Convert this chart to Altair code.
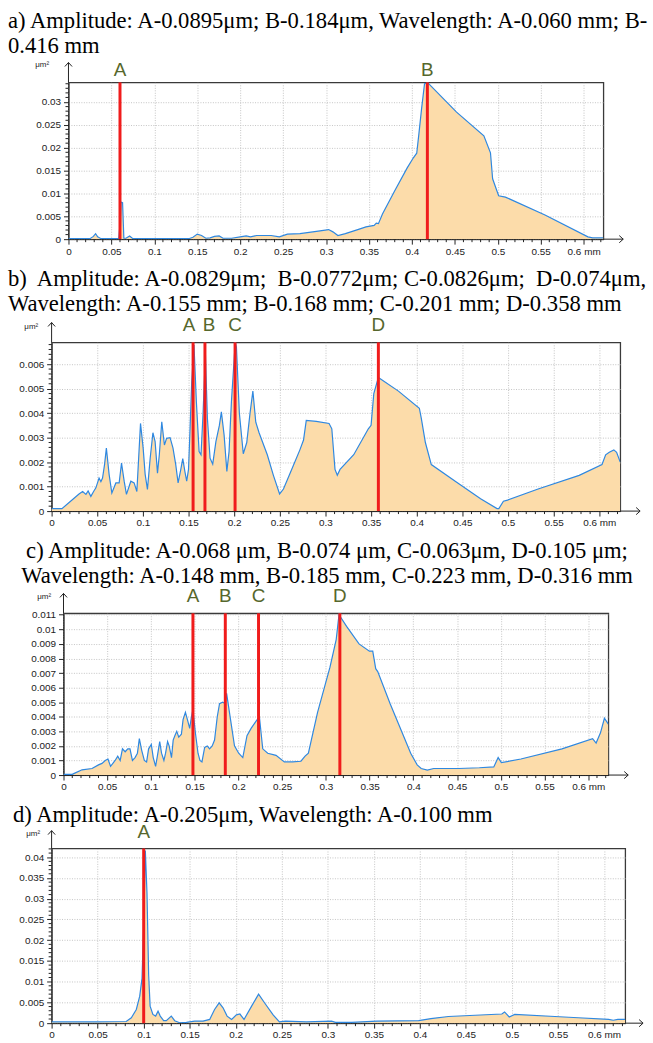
import altair as alt
import pandas as pd

# ---------------- data ----------------
X_MAX = 0.623

a_x = [0, 0.025, 0.029, 0.0316, 0.034, 0.038, 0.0585, 0.0595, 0.0605, 0.0612, 0.063, 0.0645, 0.067,
       0.0712, 0.075, 0.14, 0.145, 0.150, 0.155, 0.16, 0.165, 0.17, 0.1755, 0.18, 0.19, 0.2, 0.207,
       0.212, 0.219, 0.236, 0.2456, 0.255, 0.2696, 0.2888, 0.303, 0.308, 0.3138, 0.3225, 0.3369,
       0.3465, 0.356, 0.3585, 0.361, 0.3657, 0.380, 0.3945, 0.4017, 0.4056, 0.408, 0.4113, 0.4147,
       0.4186, 0.452, 0.4838, 0.4915, 0.494, 0.501, 0.5089, 0.555, 0.605, 0.6105, 0.623]
a_y = [0.0001, 0.0001, 0.0006, 0.0012, 0.0005, 0.0001, 0.0001, 0.0022, 0.0025, 0.0081, 0.0080, 0.0002,
       0.0002, 0.0007, 0.0001, 0.0001, 0.0004, 0.0011, 0.0008, 0.0002, 0.0003, 0.0006, 0.0007, 0.0002,
       0.0002, 0.0005, 0.0007, 0.0005, 0.0008, 0.0008, 0.0005, 0.0011, 0.0012, 0.0017, 0.0021, 0.0016,
       0.0008, 0.0012, 0.0021, 0.0027, 0.0030, 0.0035, 0.0034, 0.0055, 0.0106, 0.0156, 0.0178, 0.0188,
       0.0228, 0.0286, 0.0340, 0.0342, 0.0278, 0.0226, 0.0189, 0.0132, 0.0095, 0.0092, 0.0053, 0.0005,
       0.0003, 0.0003]

b_x = [0, 0.0113, 0.023, 0.030, 0.034, 0.0376, 0.040, 0.043, 0.046, 0.0485, 0.052, 0.054, 0.0558,
       0.058, 0.060, 0.063, 0.066, 0.0704, 0.074, 0.0766, 0.0795, 0.082, 0.0868, 0.0904, 0.0934,
       0.0974, 0.1003, 0.1025, 0.105, 0.108, 0.111, 0.1134, 0.116, 0.118, 0.1207, 0.1236, 0.126,
       0.1298, 0.133, 0.136, 0.1386, 0.1415, 0.1437, 0.146, 0.148, 0.150, 0.1517, 0.1535, 0.156,
       0.1586, 0.1616, 0.1637, 0.166, 0.1685, 0.1707, 0.1736, 0.1765, 0.180, 0.1838, 0.186, 0.189,
       0.192, 0.1944, 0.197, 0.2012, 0.2025, 0.2057, 0.210, 0.2138, 0.2174, 0.2205, 0.2237, 0.2273,
       0.2363, 0.243, 0.2498, 0.254, 0.263, 0.272, 0.276, 0.279, 0.290, 0.304, 0.307, 0.3105, 0.313,
       0.316, 0.331, 0.347, 0.350, 0.353, 0.358, 0.380, 0.4029, 0.405, 0.4095, 0.416, 0.443, 0.470,
       0.488, 0.490, 0.495, 0.4995, 0.533, 0.578, 0.603, 0.607, 0.611, 0.616, 0.619, 0.623]
b_y = [0.0001, 0.0001, 0.00047, 0.0007, 0.0008, 0.00068, 0.00082, 0.0006, 0.0008, 0.00095, 0.00135,
       0.0012, 0.00135, 0.0019, 0.00257, 0.0015, 0.00074, 0.00115, 0.00115, 0.00196, 0.00122, 0.00068,
       0.00122, 0.00115, 0.0008, 0.00358, 0.00257, 0.0015, 0.00088, 0.00216, 0.0032, 0.00284, 0.00155,
       0.0023, 0.00365, 0.0027, 0.00297, 0.0030, 0.00257, 0.0019, 0.00115, 0.00169, 0.00214, 0.00162,
       0.00122, 0.0017, 0.00338, 0.00527, 0.00678, 0.00446, 0.00243, 0.0023, 0.00405, 0.00642, 0.00378,
       0.00216, 0.00192, 0.00284, 0.0035, 0.00405, 0.0031, 0.00162, 0.00243, 0.00446, 0.0069, 0.0067,
       0.0040, 0.00234, 0.0028, 0.0040, 0.0049, 0.00363, 0.0032, 0.0023, 0.00146, 0.0007, 0.0009,
       0.0017, 0.0025, 0.0029, 0.0037, 0.00366, 0.00358, 0.00336, 0.0017, 0.00146, 0.0017, 0.0023,
       0.00336, 0.0035, 0.0048, 0.00546, 0.0049, 0.0042, 0.0038, 0.0028, 0.0019, 0.0012, 0.0005,
       0.0001, 0.0001, 0.0004, 0.00045, 0.0009, 0.00146, 0.0019, 0.0023, 0.0024, 0.0025, 0.0024, 0.0020]

c_x = [0, 0.010, 0.0117, 0.0212, 0.0326, 0.040, 0.044, 0.0477, 0.0508, 0.0538, 0.059, 0.062, 0.0648,
       0.0674, 0.0705, 0.0735, 0.076, 0.0788, 0.0818, 0.0845, 0.0867, 0.0894, 0.0924, 0.095, 0.0973,
       0.1004, 0.1026, 0.1053, 0.1076, 0.110, 0.1121, 0.1148, 0.1167, 0.119, 0.1208, 0.1235, 0.1254,
       0.1273, 0.1295, 0.1318, 0.1348, 0.1367, 0.1394, 0.1417, 0.1443, 0.146, 0.148, 0.1508, 0.1538,
       0.156, 0.1583, 0.1614, 0.1644, 0.167, 0.170, 0.1727, 0.1758, 0.1784, 0.182, 0.1848, 0.1865,
       0.191, 0.1955, 0.2003, 0.205, 0.2098, 0.2145, 0.2202, 0.224, 0.2278, 0.2335, 0.243, 0.2525,
       0.262, 0.2715, 0.2762, 0.280, 0.2905, 0.3047, 0.3118, 0.315, 0.3237, 0.3379, 0.3498, 0.3536,
       0.357, 0.3593, 0.3735, 0.397, 0.4044, 0.409, 0.416, 0.4233, 0.4518, 0.4755, 0.492, 0.497,
       0.5007, 0.523, 0.570, 0.605, 0.609, 0.614, 0.6185, 0.623]
c_y = [0.00005, 0.00005, 0.0001, 0.00036, 0.00045, 0.0007, 0.0008, 0.0010, 0.0011, 0.0006, 0.0010,
       0.0013, 0.0010, 0.0018, 0.0016, 0.0018, 0.0018, 0.0010, 0.0012, 0.0015, 0.0025, 0.0017, 0.0010,
       0.0009, 0.0018, 0.0021, 0.0012, 0.0006, 0.0014, 0.0023, 0.0015, 0.0010, 0.0015, 0.0023, 0.0020,
       0.0012, 0.0024, 0.0027, 0.0030, 0.0026, 0.0028, 0.0038, 0.0043, 0.0038, 0.0032, 0.0039, 0.0045,
       0.0029, 0.0015, 0.0010, 0.0009, 0.0019, 0.0020, 0.0018, 0.0020, 0.0024, 0.0040, 0.0049, 0.0050,
       0.0049, 0.0056, 0.0038, 0.0020, 0.0015, 0.0012, 0.0027, 0.0032, 0.0037, 0.0040, 0.0018, 0.0015,
       0.00135, 0.0009, 0.0009, 0.00095, 0.0013, 0.0015, 0.0043, 0.0074, 0.0093, 0.0110, 0.0102,
       0.0090, 0.0085, 0.0085, 0.0073, 0.0071, 0.0049, 0.0015, 0.0007, 0.00045, 0.00034, 0.00045,
       0.00045, 0.0005, 0.00056, 0.0012, 0.00085, 0.0011, 0.0018, 0.0025, 0.0022, 0.0029, 0.0039, 0.0035]

d_x = [0, 0.05, 0.081, 0.0866, 0.092, 0.0957, 0.0982, 0.100, 0.1018, 0.1036, 0.1054, 0.107, 0.110,
       0.113, 0.1156, 0.118, 0.1217, 0.1246, 0.130, 0.1337, 0.139, 0.1464, 0.1554, 0.1645, 0.1717,
       0.177, 0.182, 0.1862, 0.1906, 0.1955, 0.2007, 0.2045, 0.209, 0.218, 0.2248, 0.2316, 0.2406,
       0.2474, 0.254, 0.2767, 0.304, 0.3083, 0.326, 0.3535, 0.3987, 0.412, 0.431, 0.460, 0.489, 0.492,
       0.497, 0.503, 0.5466, 0.572, 0.605, 0.610, 0.615, 0.623]
d_y = [0.0003, 0.0003, 0.0004, 0.0013, 0.0033, 0.0065, 0.0108, 0.0234, 0.0416, 0.0313, 0.0116, 0.0041,
       0.0021, 0.0017, 0.0029, 0.0017, 0.0006, 0.0006, 0.0017, 0.0006, 0.0001, 0.0002, 0.0005, 0.0005,
       0.0009, 0.0033, 0.0049, 0.0037, 0.0017, 0.0009, 0.0020, 0.0022, 0.0009, 0.0044, 0.0070, 0.0048,
       0.0020, 0.0003, 0.0005, 0.0003, 0.0005, 0.0002, 0.0002, 0.0005, 0.0006, 0.0011, 0.0016, 0.0019,
       0.0022, 0.0027, 0.0015, 0.0021, 0.0016, 0.0013, 0.0009, 0.0007, 0.0009, 0.0009]

a_marks = [0.060, 0.418]
a_labels = ["A", "B"]
b_marks = [0.155, 0.168, 0.201, 0.358]
b_labels = ["A", "B", "C", "D"]
c_marks = [0.148, 0.185, 0.223, 0.316]
c_labels = ["A", "B", "C", "D"]
d_marks = [0.100]
d_labels = ["A"]

a_title = ["a) Amplitude: A-0.0895μm; B-0.184μm, Wavelength: A-0.060 mm; B-", "0.416 mm"]
b_title = ["b)\u00a0 Amplitude: A-0.0829μm;\u00a0 B-0.0772μm; C-0.0826μm;\u00a0 D-0.074μm,",
           "Wavelength: A-0.155 mm; B-0.168 mm; C-0.201 mm; D-0.358 mm"]
c_title = ["c) Amplitude: A-0.068 μm, B-0.074 μm, C-0.063μm, D-0.105 μm;",
           "Wavelength: A-0.148 mm, B-0.185 mm, C-0.223 mm, D-0.316 mm"]
d_title = ["d) Amplitude: A-0.205μm, Wavelength: A-0.100 mm"]

# ---------------- styling ----------------
FILL = "#fcdcaa"
BLUE = "#2f88e0"
RED = "#f01c1c"
OLIVE = "#56672c"
INK = "#222222"
SANS = "Liberation Sans"
SERIF = "Liberation Serif"
TITLE_SIZE = 22.8


def tick_values(step, upper):
    n = int(upper / step + 1e-9)
    return [round(i * step, 6) for i in range(n + 1)]


def minor_values(minor, major, upper):
    out = []
    for v in tick_values(minor, upper):
        r = v / major
        if abs(r - round(r)) > 1e-6:
            out.append(v)
    return out


def x_axis(pad):
    six = "\u00a0" * 7 + "0.6 mm"
    return alt.Axis(
        values=tick_values(0.05, 0.6), title=None, grid=True, labelOverlap=False, labelFlush=False,
        labelExpr=f"abs(datum.value-0.6)<1e-6 ? '{six}' : format(datum.value, '~g')",
        labelFont=SANS, labelFontSize=10, labelColor=INK, labelPadding=pad,
        tickSize=5, tickColor=INK, domainColor=INK,
        gridColor="#c4c4c4", gridDash=[1, 1.5],
    )


def y_axis(major, upper, tx, ty):
    return alt.Axis(
        values=tick_values(major, upper), grid=True, labelOverlap=False, labelFlush=False,
        format="~g", labelFont=SANS, labelFontSize=10, labelColor=INK, labelPadding=3,
        tickSize=5, tickColor=INK, domainColor=INK,
        gridColor="#c4c4c4", gridDash=[1, 1.5],
        title="μm²", titleAngle=0, titleAlign="left", titleBaseline="alphabetic",
        titleX=tx, titleY=ty, titleFont=SANS, titleFontSize=8, titleFontWeight="normal",
        titleColor=INK,
    )


one = pd.DataFrame({"k": [0]})


def panel(xs, ys, marks, labels, ymax, major, minor, W, H, title_lines, title_dx, anchor,
          title_offset, label_y, ytx, yty, label_dx=None, xpad=2, ext=20):
    df = pd.DataFrame({"x": xs, "y": ys})
    mk = pd.DataFrame({"x": marks, "lbl": labels})
    xsc = alt.Scale(domain=[0, X_MAX], nice=False, zero=False)
    ysc = alt.Scale(domain=[0, ymax], nice=False, zero=False)
    X = alt.X("x:Q", scale=xsc, axis=x_axis(xpad))
    Y = alt.Y("y:Q", scale=ysc, axis=y_axis(major, ymax, ytx, yty))

    area = alt.Chart(df).mark_area(color=FILL, clip=True).encode(x=X, y=Y)
    line = alt.Chart(df).mark_line(color=BLUE, strokeWidth=1.2, clip=True).encode(x=X, y=Y)
    rules = alt.Chart(mk).mark_rule(color=RED, strokeWidth=3).encode(x=X)
    layers = [area, line, rules]

    # minor ticks
    xm = pd.DataFrame({"x": minor_values(0.01, 0.05, 0.62)})
    layers.append(alt.Chart(xm).mark_rule(color=INK, strokeWidth=1).encode(
        x=X, y=alt.value(H), y2=alt.value(H + 3)))
    if minor < major:
        ym = pd.DataFrame({"y": minor_values(minor, major, ymax)})
        layers.append(alt.Chart(ym).mark_rule(color=INK, strokeWidth=1).encode(
            y=Y, x=alt.value(0), x2=alt.value(-3)))

    label_dx = label_dx or {}
    for lab in labels:
        txt = alt.Chart(mk).transform_filter(alt.datum.lbl == lab).mark_text(
            font=SANS, fontSize=19, color=OLIVE, baseline="bottom", align="center",
            dx=label_dx.get(lab, 0)
        ).encode(x=X, y=alt.value(label_y), text="lbl:N")
        layers.append(txt)

    layers.append(alt.Chart(one).mark_rule(color=INK, strokeWidth=1).encode(
        x=alt.value(0), y=alt.value(0), y2=alt.value(-ext)))
    layers.append(alt.Chart(one).mark_rule(color=INK, strokeWidth=1).encode(
        x=alt.value(W), x2=alt.value(W + ext), y=alt.value(H)))
    layers.append(alt.Chart(one).mark_point(shape="M-0.9,1L0,0L0.9,1", size=64, filled=False,
                                            color=INK, strokeWidth=1, opacity=1).encode(
        x=alt.value(0), y=alt.value(-ext)))
    layers.append(alt.Chart(one).mark_point(shape="M-1,-0.9L0,0L-1,0.9", size=64, filled=False,
                                            color=INK, strokeWidth=1, opacity=1).encode(
        x=alt.value(W + ext), y=alt.value(H)))

    title = alt.TitleParams(
        text=title_lines, anchor=anchor, frame="group", dx=title_dx, offset=title_offset,
        font=SERIF, fontSize=TITLE_SIZE, fontWeight="normal", color="black", lineHeight=25,
    )
    return alt.layer(*layers).properties(
        width=W, height=H, title=title,
        view=alt.ViewBackground(stroke="#3a3a3a", strokeWidth=1.3),
    )


def row(left, chart):
    spacer = alt.Chart(one).mark_point(opacity=0).encode(
        x=alt.value(0), y=alt.value(0)
    ).properties(width=left, height=1, view=alt.ViewBackground(strokeOpacity=0))
    return alt.hconcat(spacer, chart, spacing=0, bounds="flush")


pa = panel(a_x, a_y, a_marks, a_labels, 0.0343, 0.005, 0.001, 539, 158, a_title, -61, "start",
           3, -2, -34, -16)
pb = panel(b_x, b_y, b_marks, b_labels, 0.00689, 0.001, 0.0002, 573, 170, b_title, -44, "start",
           1, -7, -28, -14, label_dx={"A": -4, "B": 4})
pc = panel(c_x, c_y, c_marks, c_labels, 0.0111, 0.001, 0.001, 549, 163, c_title, -9, "middle",
           0, -7, -27, -15)
pd_ = panel(d_x, d_y, d_marks, d_labels, 0.0421, 0.005, 0.001, 578, 176, d_title, -39, "start",
            -4, -7, -26, -13, xpad=1, ext=18)

chart = alt.vconcat(
    row(66, pa), row(49, pb), row(61, pc), row(49, pd_), spacing=10
).properties(
    padding={"left": 0, "top": 5, "right": 0, "bottom": 0}, background="white"
).configure_view(stroke="#3a3a3a")

chart.save("out.html", embed_options={"renderer": "svg", "actions": False})
